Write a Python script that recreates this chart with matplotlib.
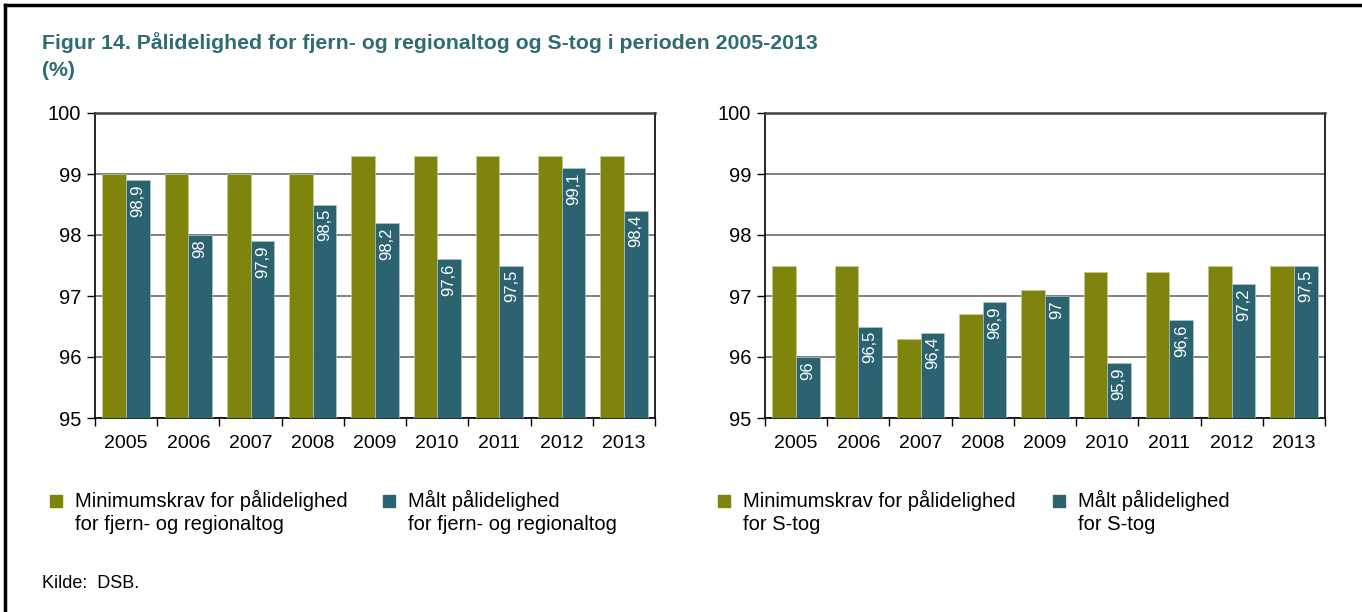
import matplotlib

matplotlib.use("Agg")
import matplotlib.pyplot as plt
import numpy as np
from matplotlib.lines import Line2D
from matplotlib.patches import Rectangle

plt.rcParams["font.family"] = ["Liberation Sans", "DejaVu Sans"]

years = ["2005", "2006", "2007", "2008", "2009", "2010", "2011", "2012", "2013"]
fjern_krav = [99, 99, 99, 99, 99.3, 99.3, 99.3, 99.3, 99.3]
fjern_maalt = [98.9, 98, 97.9, 98.5, 98.2, 97.6, 97.5, 99.1, 98.4]
stog_krav = [97.5, 97.5, 96.3, 96.7, 97.1, 97.4, 97.4, 97.5, 97.5]
stog_maalt = [96, 96.5, 96.4, 96.9, 97, 95.9, 96.6, 97.2, 97.5]

legend_left = ["Minimumskrav for pålidelighed\nfor fjern- og regionaltog",
               "Målt pålidelighed\nfor fjern- og regionaltog"]
legend_right = ["Minimumskrav for pålidelighed\nfor S-tog",
                "Målt pålidelighed\nfor S-tog"]

OLIVE = "#7f840c"
TEAL = "#2b6470"
TITLE = "#2f6b73"

W, H = 1362, 612
fig = plt.figure(figsize=(W / 100, H / 100), dpi=100)


def px_axes(x0, y0, x1, y1):
    return fig.add_axes([x0 / W, 1 - y1 / H, (x1 - x0) / W, (y1 - y0) / H])


def draw_panel(ax, krav, maalt):
    x = np.arange(len(years))
    w = 0.38
    ax.bar(x - w / 2, krav, w, color=OLIVE, edgecolor="#c8cc90", linewidth=0.5, zorder=3)
    bars = ax.bar(x + w / 2, maalt, w, color=TEAL, edgecolor="#b0c4c8", linewidth=0.5, zorder=3)
    for rect, v in zip(bars, maalt):
        ax.text(rect.get_x() + rect.get_width() / 2, v - 0.07, f"{v:g}".replace(".", ","),
                rotation=90, ha="center", va="top", color="white", fontsize=12, zorder=4)
    ax.set_ylim(95, 100)
    ax.set_xlim(-0.5, len(years) - 0.5)
    ax.set_yticks([95, 96, 97, 98, 99, 100])
    ax.set_xticks(x)
    ax.set_xticklabels(years)
    ax.set_xticks(np.arange(-0.5, len(years)), minor=True)
    ax.tick_params(axis="x", which="major", length=0, labelsize=14, pad=12)
    ax.tick_params(axis="x", which="minor", length=6, width=1, direction="out")
    ax.tick_params(axis="y", labelsize=14.5, length=6, width=1, pad=4)
    ax.grid(axis="y", color="#808080", linewidth=1.4, zorder=1)
    for s in ax.spines.values():
        s.set_linewidth(1.2)
    ax.spines["top"].set_color("#404040")
    ax.spines["top"].set_linewidth(1.8)


ax1 = px_axes(95, 113, 655, 418)
draw_panel(ax1, fjern_krav, fjern_maalt)
ax2 = px_axes(765, 113, 1325, 418)
draw_panel(ax2, stog_krav, stog_maalt)

fig.text(42 / W, 1 - 43 / H, "Figur 14. Pålidelighed for fjern- og regionaltog og S-tog i perioden 2005-2013",
         color=TITLE, fontsize=15.3, fontweight="bold", ha="left", va="center")
fig.text(42 / W, 1 - 70 / H, "(%)", color=TITLE, fontsize=15.3, fontweight="bold",
         ha="left", va="center")


def legend_item(x, text, color):
    fig.patches.append(Rectangle((x / W, 1 - 507 / H), 12 / W, 12 / H, color=color,
                                 transform=fig.transFigure, figure=fig))
    first, second = text.split("\n")
    fig.text((x + 25) / W, 1 - 500 / H, first, fontsize=14.5, ha="left", va="center")
    fig.text((x + 25) / W, 1 - 525 / H, second, fontsize=14.5, ha="left", va="center")


legend_item(50, legend_left[0], OLIVE)
legend_item(383, legend_left[1], TEAL)
legend_item(718, legend_right[0], OLIVE)
legend_item(1053, legend_right[1], TEAL)

fig.text(42 / W, 1 - 584 / H, "Kilde:  DSB.", fontsize=13, ha="left", va="center")

fig.add_artist(Line2D([5 / W, 1], [1 - 5 / H, 1 - 5 / H], color="black", linewidth=2.5,
                      transform=fig.transFigure))
fig.add_artist(Line2D([5 / W, 5 / W], [0, 1 - 5 / H], color="black", linewidth=2.5,
                      transform=fig.transFigure))

fig.savefig("out.png", dpi=100)
